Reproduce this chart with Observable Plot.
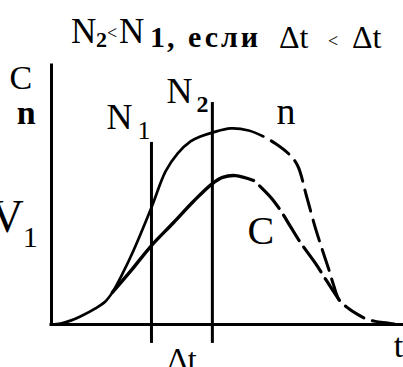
<!DOCTYPE html>
<html>
<head>
<meta charset="utf-8">
<script src="https://cdn.jsdelivr.net/npm/d3@7"></script>
<script src="https://cdn.jsdelivr.net/npm/@observablehq/plot@0.6"></script>
<style>
  body { margin: 0; background: #fff; }
  #chart { position: relative; width: 403px; height: 367px; overflow: hidden; background: #fff; }
  #chart > svg { position: absolute; left: 0; top: 0; }
  #title { pointer-events: none; }
  #chart svg text { font-family: "Liberation Serif", serif !important; }
</style>
</head>
<body>
<div id="chart">
  <svg id="title" width="403" height="60" fill="#000">
    <text x="71" y="43" font-size="35">N</text>
    <text x="96" y="47" font-size="22" font-weight="bold">2</text>
    <text x="107" y="39" font-size="18">&lt;</text>
    <text x="119" y="43" font-size="35">N</text>
    <text x="150" y="47" font-size="30" font-weight="bold">1</text>
    <text x="167" y="47" font-size="30" font-weight="bold" letter-spacing="3">, если</text>
    <text x="279" y="48" font-size="32">Δt</text>
    <text x="328" y="47" font-size="18">&lt;</text>
    <text x="352" y="48" font-size="32">Δt</text>
  </svg>
</div>
<script>
// Time runs 0–100 along x, level 0–100 along y (arbitrary units).

// n: rising (solid) part, starting at the origin
const nRiseT = [0, 2.6, 5.4, 8.2, 12.5, 15.3, 17.3, 20.2, 23.3, 28.4, 32.4, 35.8, 39.5, 42.3, 45.7, 50.9, 56.0, 60.2];
const nRiseV = [0, 0.4, 1.5, 3.1, 6.2, 8.9, 12.4, 19.7, 28.6, 45.2, 59.1, 66.0, 70.7, 72.6, 74.1, 75.7, 74.9, 72.6];
// n: falling (dashed) part, with the common tail back to zero
const nFallT = [60.2, 63.6, 67.3, 69.9, 72.4, 75.0, 77.0, 78.7, 80.1, 81.8, 84.4, 86.6, 89.2, 92.0, 95.5, 98.3];
const nFallV = [72.6, 69.9, 66.0, 61.4, 49.8, 37.1, 28.6, 21.6, 15.4, 9.3, 6.2, 4.2, 2.3, 1.2, 0.6, 0];

// C: branches off n, rising (solid) part
const cRiseT = [17.3, 22.4, 28.4, 34.7, 40.3, 45.7, 48.6, 52.3, 57.4];
const cRiseV = [12.4, 20.5, 30.5, 39.4, 47.5, 54.4, 56.8, 57.5, 55.6];
// C: falling (dashed) part, rejoining n
const cFallT = [57.4, 59.9, 62.8, 65.6, 67.9, 70.7, 75.0, 78.1, 81.8];
const cFallV = [55.6, 52.5, 48.3, 42.9, 37.8, 31.7, 23.6, 17.0, 9.3];

// moments N1 and N2 (vertical markers)
const markerName = ["N1", "N2"];
const markerT = [28.4, 45.7];
const markerTop = [70.3, 85.7];
const markerBottom = -7.3;

const toPoints = (T, V) => T.map((t, i) => ({t, v: V[i]}));
const markers = markerName.map((name, i) => ({name, t: markerT[i], top: markerTop[i]}));

const FONT = "Liberation Serif";
const label = (text, x, y, size, opts = {}) =>
  Plot.text([{x, y}], {
    x: "x", y: "y", text: () => text,
    fontFamily: FONT, fontSize: size, fill: "black",
    textAnchor: "start", lineAnchor: "bottom", ...opts
  });

const chart = Plot.plot({
  width: 403,
  height: 367,
  marginLeft: 51,
  marginRight: 0,
  marginTop: 65,
  marginBottom: 43,
  x: {domain: [0, 100], axis: null},
  y: {domain: [0, 100], axis: null},
  style: {background: "transparent"},
  marks: [
    // axes
    Plot.ruleY([0], {stroke: "black", strokeWidth: 3, strokeLinecap: "square"}),
    Plot.ruleX([0], {stroke: "black", strokeWidth: 3, strokeLinecap: "square"}),
    // N1, N2 markers
    Plot.ruleX(markers, {x: "t", y1: markerBottom, y2: "top", stroke: "black", strokeWidth: 3}),
    // n curve
    Plot.line(toPoints(nRiseT, nRiseV), {x: "t", y: "v", curve: "catmull-rom", stroke: "black", strokeWidth: 2.7}),
    Plot.line(toPoints(nFallT, nFallV), {x: "t", y: "v", curve: "catmull-rom", stroke: "black", strokeWidth: 3, strokeDasharray: "22,9", strokeDashoffset: 22}),
    // C curve
    Plot.line(toPoints(cRiseT, cRiseV), {x: "t", y: "v", curve: "catmull-rom", stroke: "black", strokeWidth: 3.4}),
    Plot.line(toPoints(cFallT, cFallV), {x: "t", y: "v", curve: "catmull-rom", stroke: "black", strokeWidth: 3.2, strokeDasharray: "30,8", strokeDashoffset: 30}),
    // labels
    label("C", -11.9, 91.1, 34),
    label("n", -9.9, 77.6, 34, {fontWeight: "bold"}),
    label("V", -17.3, 35.9, 46),
    label("1", -8.2, 30.1, 30),
    label("N", 15.6, 75.3, 36),
    label("1", 24.4, 71.8, 26),
    label("N", 32.7, 85.7, 36),
    label("2", 41.2, 82.2, 24, {fontWeight: "bold"}),
    label("n", 63.9, 77.6, 38),
    label("C", 55.7, 30.9, 40),
    label("t", 97.2, -12.7, 34),
    label("Δt", (markerT[0] + markerT[1]) / 2, -17.4, 32, {textAnchor: "middle"})
  ]
});

document.getElementById("chart").prepend(chart);
</script>
</body>
</html>
